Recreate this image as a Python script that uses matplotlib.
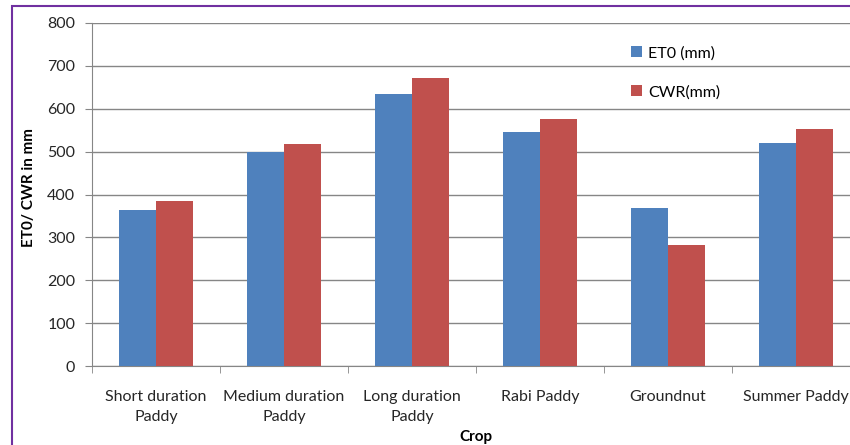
import matplotlib.pyplot as plt
import numpy as np
from matplotlib.patches import Rectangle

plt.rcParams['font.family'] = ['Lato', 'DejaVu Sans']

# data
crops = ["Short duration\nPaddy", "Medium duration\nPaddy", "Long duration\nPaddy",
         "Rabi Paddy", "Groundnut", "Summer Paddy"]
et0 = [365, 500, 635, 546, 368, 520]
cwr = [384, 518, 672, 576, 283, 552]

blue = "#4F81BD"
red = "#C0504D"
grey = "#868686"
txt = "#262626"

fig = plt.figure(figsize=(8.5, 4.45), dpi=100)
# axes run past the right edge, like the cropped original
ax = fig.add_axes([92 / 850, 1 - 366 / 445, (860 - 92) / 850, (366 - 23) / 445])

x = np.arange(len(crops))
w = 0.29
ax.bar(x - w / 2, et0, w, color=blue, label="ET0 (mm)", zorder=3)
ax.bar(x + w / 2, cwr, w, color=red, label="CWR(mm)", zorder=3)

ax.set_xlim(-0.5, len(crops) - 0.5)
ax.set_ylim(0, 800)
ax.set_yticks(range(0, 801, 100))
ax.yaxis.grid(True, color=grey, linewidth=1, zorder=0)
ax.set_axisbelow(True)

ax.set_xticks(x)
ax.set_xticklabels(crops, fontsize=11.5, color=txt, linespacing=1.6)
ax.set_xticks(np.arange(-0.5, len(crops)), minor=True)
ax.tick_params(axis="x", which="major", length=0, pad=17)
ax.tick_params(axis="x", which="minor", length=5, color=grey)
ax.tick_params(axis="y", length=5, color=grey, labelsize=11.5, labelcolor=txt, pad=7)

for s in ["top", "right"]:
    ax.spines[s].set_visible(False)
for s in ["left", "bottom"]:
    ax.spines[s].set_color(grey)

ax.set_xlabel("Crop", fontsize=11, fontweight="bold", labelpad=4)
ax.set_ylabel("ET0/ CWR in mm", fontsize=11, fontweight="bold")
ax.yaxis.set_label_coords(-0.073, 0.52)

ax.legend(loc="upper left", bbox_to_anchor=(0.683, 0.975), frameon=False,
          fontsize=11.5, labelspacing=1.55, handlelength=0.7, handleheight=0.7,
          handletextpad=0.4)

# purple frame of the original chart box
fig.patches.append(Rectangle((12 / 850, -0.1), 1.1, 1.1 - 6 / 445, transform=fig.transFigure,
                             fill=False, edgecolor="#7030A0", linewidth=1.5))

fig.savefig("out.png", dpi=100)
